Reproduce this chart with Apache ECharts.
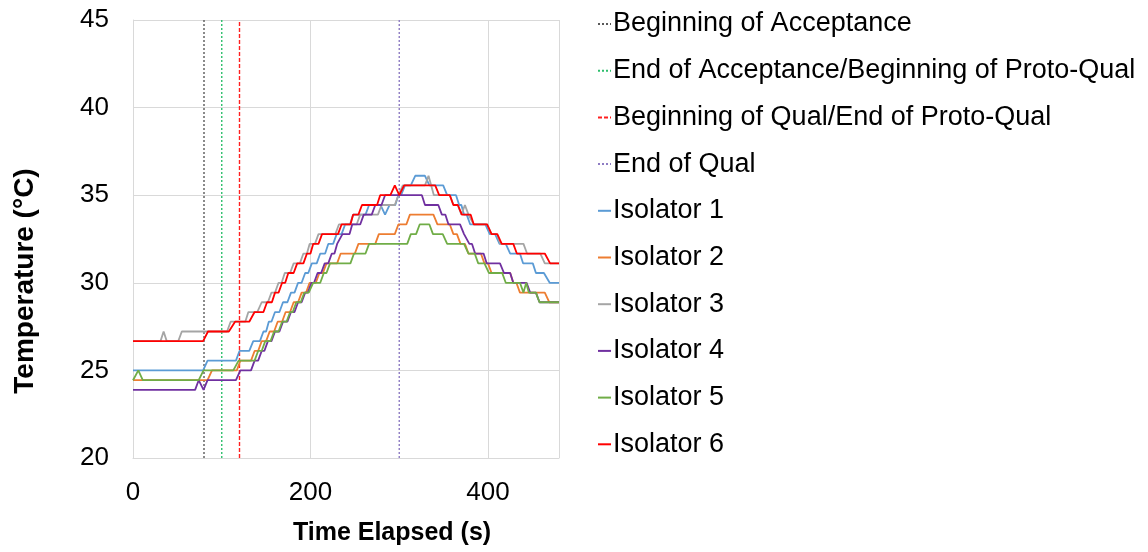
<!DOCTYPE html>
<html>
<head>
<meta charset="utf-8">
<script src="https://cdn.jsdelivr.net/npm/echarts@6.0.0/dist/echarts.min.js"></script>
<style>
html,body{margin:0;padding:0;background:#fff;}
#chart{width:1148px;height:552px;}
</style>
</head>
<body>
<div id="chart"></div>
<script>
// ---- Data ----
const markerNames = ['Beginning of Acceptance', 'End of Acceptance/Beginning of Proto-Qual', 'Beginning of Qual/End of Proto-Qual', 'End of Qual'];
const markerTimes = [80, 100, 120, 300];
const markerRange = [20, 45];

const xTicks = [0, 200, 400];
const yTicks = [20, 25, 30, 35, 40, 45];

const seriesNames = ['Isolator 1', 'Isolator 2', 'Isolator 3', 'Isolator 4', 'Isolator 5', 'Isolator 6'];

const iso1Time = [0,79,84,116,120,131,135.5,143,147,150,153,156,160,165,169,174,178,182,186,190,194,197.5,201.5,207,211,216.5,220,225.5,229.5,235,239,244.5,248,262,266,279,284,289,295.5,299,302,306.5,313,318,329,334,349.5,354,364,367.5,370,373,376,380,397,402,408,413,420,425,436,439.5,450.5,454,463,469.5,480];
const iso1Temp = [25,25,25.56,25.56,26.11,26.11,26.67,26.67,27.22,27.22,27.78,27.78,28.33,28.33,28.89,28.89,29.44,29.44,30,30,30.56,30.56,31.11,31.11,31.67,31.67,32.22,32.22,32.78,32.78,33.33,33.33,33.89,33.89,34.44,34.44,33.89,34.44,34.44,35,35,35.56,35.56,36.11,36.11,35.56,35.56,35,35,34.44,34.44,33.89,33.89,33.33,33.33,32.78,32.78,32.22,32.22,31.67,31.67,31.11,31.11,30.56,30.56,30,30];

const iso2Time = [0,84,89,117,121,133,137,141,145,150,154,159,163,168,172,177,181,186,190,195,199,206,210,214,218,230,234,250,254,273,277,295,299,308,312,338.5,343,357,361,365,369,374,378,392,396,400,404,425,428.5,432,436,464,469,480];
const iso2Temp = [24.44,24.44,25,25,25.56,25.56,26.11,26.11,26.67,26.67,27.22,27.22,27.78,27.78,28.33,28.33,28.89,28.89,29.44,29.44,30,30,30.56,30.56,31.11,31.11,31.67,31.67,32.22,32.22,32.78,32.78,33.33,33.33,33.89,33.89,33.33,33.33,32.78,32.78,32.22,32.22,31.67,31.67,31.11,31.11,30.56,30.56,30,30,29.44,29.44,28.89,28.89];

const iso3Time = [0,31,34.5,38,51,55,106,110,126.5,130,140,145,152,156,160,164,167.5,171,177,181,188,192,196,199,205,209,228,232,252,256,276,280,295,299,301,304,329,333,339,357,361,366,370,374,378,384,399,404,410,414,440,444,459,464,480];
const iso3Temp = [26.67,26.67,27.22,26.67,26.67,27.22,27.22,27.78,27.78,28.33,28.33,28.89,28.89,29.44,29.44,30,30,30.56,30.56,31.11,31.11,31.67,31.67,32.22,32.22,32.78,32.78,33.33,33.33,33.89,33.89,34.44,34.44,35,35,35.56,35.56,36.11,35,35,34.44,34.44,33.89,34.44,33.89,33.33,33.33,32.78,32.78,32.22,32.22,31.67,31.67,31.11,31.11];

const iso4Time = [0,70,74,79.5,84,116,121,133,137,141,145,148,152,156,160,165,169,174,178,182,186,190,194,197,201,204,208,212,216,220,224,227,230,232,236,244,247,256,260,269,273,280,284,325.5,329,344,348,352,355.5,368.5,373,375,379,382,385.5,395,398.5,413.5,418,425,428.5,443.5,447.5,454,458,480];
const iso4Temp = [23.89,23.89,24.44,23.89,24.44,24.44,25,25,25.56,25.56,26.11,26.11,26.67,26.67,27.22,27.22,27.78,27.78,28.33,28.33,28.89,28.89,29.44,29.44,30,30,30.56,30.56,31.11,31.11,31.67,31.67,32.22,32.22,32.78,32.78,33.33,33.33,33.89,33.89,34.44,34.44,35,35,34.44,34.44,33.89,33.89,33.33,33.33,32.78,32.78,32.22,32.22,31.67,31.67,31.11,31.11,30.56,30.56,30,30,29.44,29.44,28.89,28.89];

const iso5Time = [0,1,6,11,74,79.5,113,119,137,141,145,149,155,159,164,168,173,177,180,184,189,193,198,203,211,215,218,222,245,249,262,266,309,313,319,323,334,338,349,354,373,378,385,389,396,401,416,420,436,440,443,446,454,458,480];
const iso5Temp = [24.44,24.44,25,24.44,24.44,25,25,25.56,25.56,26.11,26.11,26.67,26.67,27.22,27.22,27.78,27.78,28.33,28.33,28.89,28.89,29.44,29.44,30,30,30.56,30.56,31.11,31.11,31.67,31.67,32.22,32.22,32.78,32.78,33.33,33.33,32.78,32.78,32.22,32.22,31.67,31.67,31.11,31.11,30.56,30.56,30,30,29.44,30,29.44,29.44,28.89,28.89];

const iso6Time = [0,79,84.5,108,115,131,137,147,151,156.5,160,164,168,171.5,175,181,185,192,196,200,203,209,213,231,235,245,248,254,258,275,278.5,290,295,300,305.5,340.5,345,357,361,366,370.5,380.5,384,399,404,410.5,415.5,428.5,432.5,464,470,480];
const iso6Temp = [26.67,26.67,27.22,27.22,27.78,27.78,28.33,28.33,28.89,28.89,29.44,29.44,30,30,30.56,30.56,31.11,31.11,31.67,31.67,32.22,32.22,32.78,32.78,33.33,33.33,33.89,33.89,34.44,34.44,35,35,35.56,35,35.56,35.56,35,35,34.44,34.44,33.89,33.89,33.33,33.33,32.78,32.78,32.22,32.22,31.67,31.67,31.11,31.11];

// ---- Styles ----
const FONT = '"Liberation Sans", Arial, sans-serif';
const markerColors = ['#595959', '#2DBE6C', '#FF2020', '#8E7CC3'];
const markerDash = [[2, 2], [2, 2], [4, 2], [2, 2]];
const isoColors = ['#5B9BD5', '#ED7D31', '#A5A5A5', '#7030A0', '#70AD47', '#FF0000'];
const isoTimes = [iso1Time, iso2Time, iso3Time, iso4Time, iso5Time, iso6Time];
const isoTemps = [iso1Temp, iso2Temp, iso3Temp, iso4Temp, iso5Temp, iso6Temp];

const series = [];
markerNames.forEach((name, i) => {
  series.push({
    name: name,
    type: 'line',
    data: markerRange.map(v => [markerTimes[i], v]),
    symbol: 'none',
    silent: true,
    lineStyle: { color: markerColors[i], width: 1.4, type: markerDash[i] },
    itemStyle: { color: markerColors[i] }
  });
});
seriesNames.forEach((name, i) => {
  series.push({
    name: name,
    type: 'line',
    data: isoTimes[i].map((t, k) => [t, isoTemps[i][k]]),
    symbol: 'none',
    lineStyle: { color: isoColors[i], width: 1.8 },
    itemStyle: { color: isoColors[i] }
  });
});

const chart = echarts.init(document.getElementById('chart'), null, { renderer: 'canvas' });
chart.setOption({
  animation: false,
  backgroundColor: '#ffffff',
  textStyle: { fontFamily: FONT },
  grid: { left: 133, right: 589, top: 20, bottom: 94, outerBoundsMode: 'none' },
  legend: {
    orient: 'vertical',
    left: 592,
    top: 4,
    itemWidth: 13,
    itemHeight: 10,
    itemGap: 16.7,
    itemStyle: { opacity: 0, borderWidth: 0 },
    textStyle: { fontFamily: FONT, fontSize: 27, color: '#000', lineHeight: 30, padding: [0, 0, 0, -3] },
    data: markerNames.concat(seriesNames)
  },
  xAxis: {
    type: 'value',
    min: xTicks[0],
    max: 480,
    interval: xTicks[1] - xTicks[0],
    name: 'Time Elapsed (s)',
    nameLocation: 'middle',
    nameGap: 63,
    nameTextStyle: { fontFamily: FONT, fontSize: 25, fontWeight: 'bold', color: '#000', padding: [0, 0, 0, 92] },
    axisLine: { show: true, onZero: false, lineStyle: { color: '#D9D9D9', width: 1 } },
    axisTick: { show: false },
    axisLabel: { fontFamily: FONT, fontSize: 26, color: '#000', margin: 22, showMaxLabel: false },
    splitLine: { show: true, lineStyle: { color: '#D9D9D9', width: 1 } }
  },
  yAxis: {
    type: 'value',
    min: yTicks[0],
    max: yTicks[yTicks.length - 1],
    interval: yTicks[1] - yTicks[0],
    name: 'Temperature (°C)',
    nameLocation: 'middle',
    nameGap: 94,
    nameTextStyle: { fontFamily: FONT, fontSize: 28, fontWeight: 'bold', color: '#000', padding: [0, 84, 0, 0] },
    axisLine: { show: true, lineStyle: { color: '#D9D9D9', width: 1 } },
    axisTick: { show: false },
    axisLabel: { fontFamily: FONT, fontSize: 26, color: '#000', margin: 24 },
    splitLine: { show: true, lineStyle: { color: '#D9D9D9', width: 1 } }
  },
  series: series
});
</script>
</body>
</html>
